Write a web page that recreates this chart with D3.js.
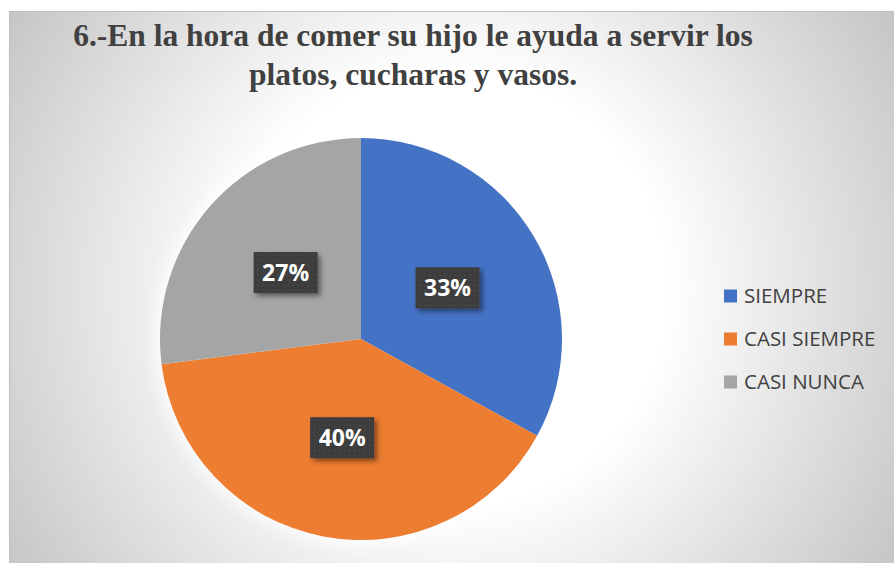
<!DOCTYPE html>
<html lang="es">
    <head>
        <meta charset="UTF-8" />
        <title>Pie Chart</title>
        <script src="https://d3js.org/d3.v7.js"></script>
    </head>

    <body>
        <div id="dataviz"></div>
    </body>

    <script>
        const categories = ["SIEMPRE", "CASI SIEMPRE", "CASI NUNCA"];
        const values = [33, 40, 27];
        const colors = ["#4472C4", "#ED7D31", "#A5A5A5"];
        const titleLines = ["6.-En la hora de comer su hijo le ayuda a servir los", "platos, cucharas y vasos."];

        const width = 894, height = 563;
        const cx = 361, cy = 339, radius = 201;

        const svg = d3.select("#dataviz")
            .append("svg")
            .attr("width", width)
            .attr("height", height);

        const defs = svg.append("defs");

        // background radial gradient
        const grad = defs.append("radialGradient")
            .attr("id", "bg")
            .attr("gradientUnits", "userSpaceOnUse")
            .attr("cx", 450).attr("cy", 290).attr("r", 540);
        grad.append("stop").attr("offset", 0).attr("stop-color", "#ffffff");
        grad.append("stop").attr("offset", 0.4).attr("stop-color", "#ffffff");
        grad.append("stop").attr("offset", 1).attr("stop-color", "#c2c2c2");

        // dotted pattern for the label boxes
        const pat = defs.append("pattern")
            .attr("id", "dots")
            .attr("width", 5).attr("height", 5)
            .attr("patternUnits", "userSpaceOnUse");
        pat.append("rect").attr("width", 5).attr("height", 5).attr("fill", "#3d3d3d");
        pat.append("rect").attr("x", 2).attr("y", 2).attr("width", 1).attr("height", 1).attr("fill", "#5a5a5a");

        const shadow = defs.append("filter").attr("id", "shadow")
            .attr("x", "-30%").attr("y", "-30%").attr("width", "160%").attr("height", "160%");
        shadow.append("feDropShadow")
            .attr("dx", 3).attr("dy", 3).attr("stdDeviation", 2.5)
            .attr("flood-color", "#000").attr("flood-opacity", 0.45);

        const glow = defs.append("filter").attr("id", "glow")
            .attr("x", "-20%").attr("y", "-20%").attr("width", "140%").attr("height", "140%");
        glow.append("feGaussianBlur").attr("stdDeviation", 8);

        svg.append("rect")
            .attr("x", 9.5).attr("y", 11.5)
            .attr("width", 890).attr("height", 560)
            .attr("fill", "url(#bg)")
            .attr("stroke", "#bdbdbd");

        // title
        svg.append("text")
            .attr("x", 413)
            .attr("text-anchor", "middle")
            .style("font-family", "'Liberation Serif', 'Times New Roman', serif")
            .style("font-weight", "bold")
            .style("font-size", "31.5px")
            .attr("fill", "#404040")
            .selectAll("tspan")
            .data(titleLines)
            .join("tspan")
            .attr("x", 413)
            .attr("y", (d, i) => 46 + i * 39)
            .text(d => d);

        // pie
        const pie = d3.pie().sort(null).value(d => d);
        const arcs = pie(values);
        const arc = d3.arc().innerRadius(0).outerRadius(radius);

        const g = svg.append("g").attr("transform", `translate(${cx},${cy})`);

        g.append("circle")
            .attr("r", radius + 4)
            .attr("fill", "#ffffff")
            .attr("opacity", 0.9)
            .attr("filter", "url(#glow)");

        g.selectAll("path.slice")
            .data(arcs)
            .join("path")
            .attr("class", "slice")
            .attr("d", arc)
            .attr("fill", (d, i) => colors[i]);

        // data labels
        const total = d3.sum(values);
        const labels = g.selectAll("g.lbl")
            .data(arcs)
            .join("g")
            .attr("class", "lbl")
            .attr("transform", d => `translate(${arc.centroid(d)})`);

        labels.append("rect")
            .attr("x", -32).attr("y", -20.5)
            .attr("width", 64).attr("height", 41)
            .attr("fill", "url(#dots)")
            .attr("filter", "url(#shadow)");

        labels.append("text")
            .attr("text-anchor", "middle")
            .attr("dy", "0.36em")
            .style("font-family", "'Open Sans', sans-serif")
            .style("font-weight", "bold")
            .style("font-size", "23px")
            .attr("fill", "#ffffff")
            .text(d => Math.round(d.value / total * 100) + "%");

        // legend
        const legend = svg.append("g")
            .selectAll("g")
            .data(categories)
            .join("g")
            .attr("transform", (d, i) => `translate(724, ${296 + i * 43})`);

        legend.append("rect")
            .attr("x", 0).attr("y", -6.5)
            .attr("width", 13).attr("height", 13)
            .attr("fill", (d, i) => colors[i]);

        legend.append("text")
            .attr("x", 20)
            .attr("dy", "0.36em")
            .style("font-family", "'Open Sans', sans-serif")
            .style("font-size", "20.5px")
            .attr("fill", "#404040")
            .text(d => d);
    </script>

    <style>
        body { margin: 0; }
        svg { display: block; }
    </style>
</html>
